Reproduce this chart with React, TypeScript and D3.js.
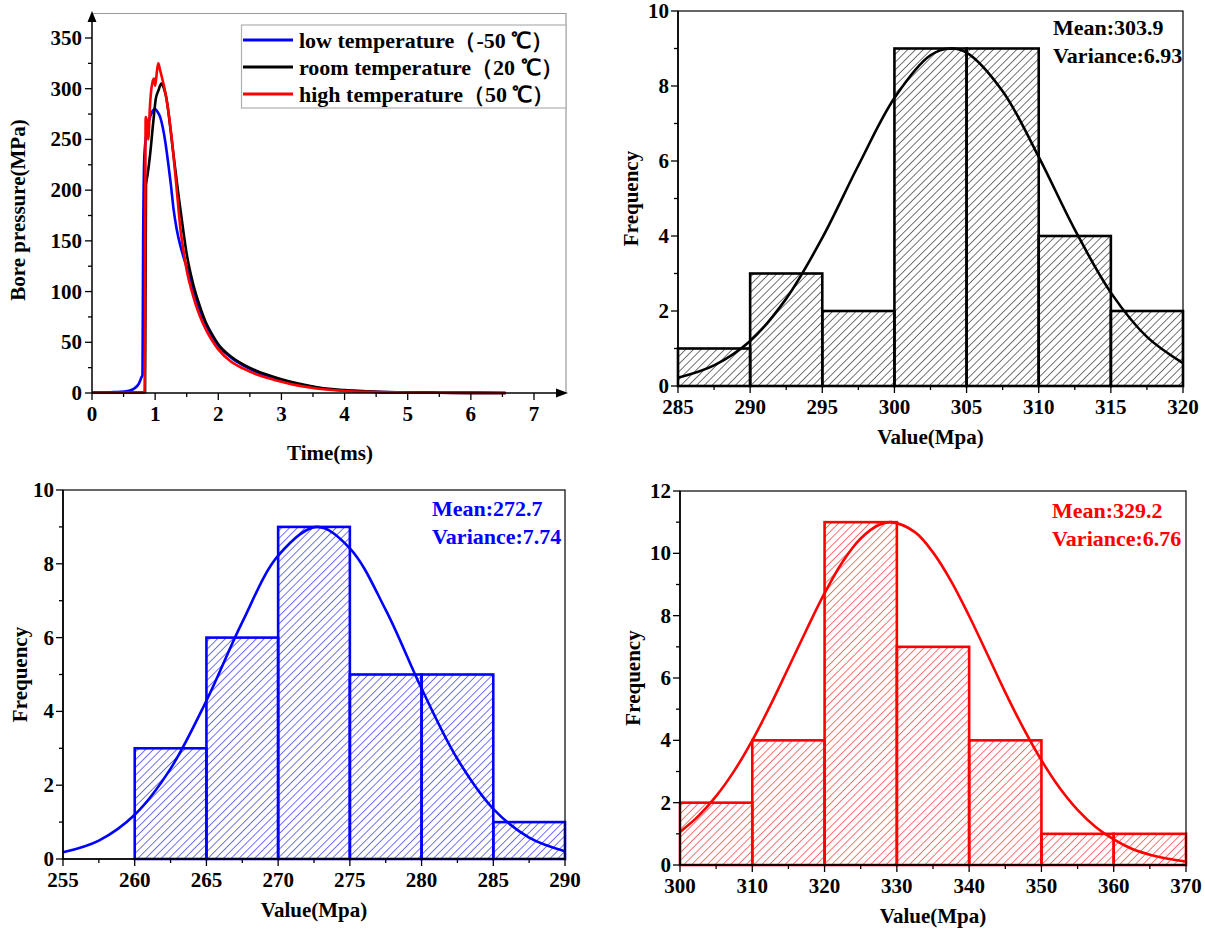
import * as d3 from "d3";

const FONT = "'Liberation Serif', 'Times New Roman', serif";

// ---- bore pressure traces: [time (ms), pressure (MPa)] ----
const lowTemp: [number, number][] = [
  [0, 0.5], [0.3, 0.8], [0.45, 1.2], [0.6, 2.5], [0.68, 5], [0.74, 9], [0.78, 15], [0.8, 18],
  [0.81, 150], [0.83, 235], [0.87, 258], [0.91, 270], [0.95, 277], [1.0, 280], [1.04, 277],
  [1.08, 272], [1.12, 262], [1.16, 248], [1.21, 225], [1.25, 205], [1.29, 182], [1.34, 162],
  [1.4, 145], [1.45, 134], [1.5, 124], [1.6, 101], [1.7, 83], [1.8, 68], [1.9, 56], [2.0, 46.5],
  [2.2, 35], [2.4, 27], [2.6, 21], [2.8, 16.5], [3.0, 12.5], [3.25, 8.8], [3.5, 6], [3.8, 3.5],
  [4.0, 2.5], [4.5, 1.1], [5.0, 0.5], [5.5, 0.25], [6.0, 0.1], [6.55, 0],
];

const roomTemp: [number, number][] = [
  [0, 0.3], [0.5, 0.4], [0.8, 0.5], [0.84, 1], [0.855, 205], [0.88, 215], [0.92, 235],
  [0.97, 267], [1.01, 290], [1.05, 298], [1.1, 305], [1.14, 300], [1.18, 290], [1.22, 272],
  [1.26, 251], [1.3, 230], [1.37, 195], [1.45, 158], [1.5, 137], [1.6, 108], [1.7, 87],
  [1.8, 70], [1.9, 58], [2.0, 48], [2.2, 36], [2.4, 28], [2.6, 22], [2.8, 17.5], [3.0, 13.5],
  [3.25, 9.5], [3.5, 6.5], [3.8, 3.8], [4.0, 2.8], [4.5, 1.3], [5.0, 0.6], [5.5, 0.3],
  [6.0, 0.15], [6.55, 0],
];

const highTemp: [number, number][] = [
  [0, 0.3], [0.5, 0.4], [0.8, 0.5], [0.835, 2], [0.85, 272], [0.87, 268], [0.89, 250],
  [0.92, 285], [0.945, 302], [0.98, 310], [1.0, 303], [1.03, 318], [1.05, 325], [1.08, 318],
  [1.1, 313], [1.15, 300], [1.2, 282], [1.25, 258], [1.3, 228], [1.35, 195], [1.4, 162],
  [1.45, 140], [1.5, 121], [1.6, 96], [1.7, 77], [1.8, 63], [1.9, 52], [2.0, 43], [2.2, 31],
  [2.4, 24], [2.6, 18.5], [2.8, 14.5], [3.0, 11], [3.25, 7.5], [3.5, 5], [3.8, 3], [4.0, 2],
  [4.5, 1], [5.0, 0.4], [5.5, 0.2], [6.0, 0.1], [6.55, 0],
];

const traceNames = ["low temperature（-50 ℃）", "room temperature（20 ℃）", "high temperature（50 ℃）"];
const traceColors = ["#0000ff", "#000000", "#ff0000"];
const timeTicks = [0, 1, 2, 3, 4, 5, 6, 7];
const pressureTicks = [0, 50, 100, 150, 200, 250, 300, 350];

// ---- histograms ----
const roomEdges = [285, 290, 295, 300, 305, 310, 315, 320];
const roomCounts = [1, 3, 2, 9, 9, 4, 2];
const roomFit: [number, number][] = [
  [285, 0.22], [287.5, 0.55], [290, 1.2], [292.5, 2.33], [295, 3.95], [297.5, 5.88], [300, 7.68],
  [302.5, 8.82], [303.9, 9], [305, 8.89], [307.5, 7.86], [310, 6.11], [312.5, 4.17], [315, 2.49],
  [317.5, 1.31], [320, 0.61],
];
const roomStats = ["Mean:303.9", "Variance:6.93"];

const lowEdges = [260, 265, 270, 275, 280, 285, 290];
const lowCounts = [3, 6, 9, 5, 5, 1];
const lowFit: [number, number][] = [
  [255, 0.18], [257.5, 0.5], [260, 1.2], [262.5, 2.45], [265, 4.29], [267.5, 6.42], [270, 8.22],
  [272.7, 9], [275, 8.42], [277.5, 6.75], [280, 4.62], [282.5, 2.71], [285, 1.36], [287.5, 0.58],
  [290, 0.21],
];
const lowStats = ["Mean:272.7", "Variance:7.74"];

const highEdges = [300, 310, 320, 330, 340, 350, 360, 370];
const highCounts = [2, 4, 11, 7, 4, 1, 1];
const highFit: [number, number][] = [
  [300, 1.06], [302.5, 1.56], [305, 2.21], [307.5, 3.02], [310, 4.0], [312.5, 5.12], [315, 6.33],
  [317.5, 7.55], [320, 8.72], [322.5, 9.73], [325, 10.48], [327.5, 10.91], [329.2, 11],
  [332.5, 10.68], [335, 10.03], [337.5, 9.11], [340, 7.99], [342.5, 6.77], [345, 5.54],
  [347.5, 4.39], [350, 3.36], [352.5, 2.48], [355, 1.77], [357.5, 1.22], [360, 0.82],
  [362.5, 0.52], [365, 0.33], [367.5, 0.2], [370, 0.11],
];
const highStats = ["Mean:329.2", "Variance:6.76"];

const txt = { fontFamily: FONT, fontWeight: 700 } as const;
const TICK_FONT = 21;

function PressureChart() {
  const x = d3.scaleLinear().domain([0, 7]).range([92, 534]);
  const y = d3.scaleLinear().domain([0, 350]).range([393, 38]);
  const line = d3
    .line<[number, number]>()
    .x((d) => x(d[0]))
    .y((d) => y(d[1]))
    .curve(d3.curveMonotoneX);
  const x0 = x(0);
  const y0 = y(0);
  const minorX = d3.range(0.5, 7.5, 1);
  const minorY = d3.range(25, 375, 50);
  const traces = [lowTemp, roomTemp, highTemp];

  return (
    <g>
      {/* grey frame */}
      <path d={`M${x0},13.5H566V${y0}`} fill="none" stroke="#9a9a9a" strokeWidth={1.2} />
      {traces.map((t, i) => (
        <path key={i} d={line(t) ?? ""} fill="none" stroke={traceColors[i]} strokeWidth={2.6} />
      ))}
      {/* axes with arrows */}
      <line x1={x0} x2={x0} y1={y0} y2={20} stroke="#000" strokeWidth={1.5} />
      <path d={`M${x0},11L${x0 - 4.5},22L${x0 + 4.5},22Z`} fill="#000" />
      <line x1={x0} x2={558} y1={y0} y2={y0} stroke="#000" strokeWidth={1.5} />
      <path d={`M568,${y0}L556,${y0 - 4.5}L556,${y0 + 4.5}Z`} fill="#000" />
      {timeTicks.map((t) => (
        <g key={t}>
          <line x1={x(t)} x2={x(t)} y1={y0} y2={y0 + 7} stroke="#000" strokeWidth={1.3} />
          <text x={x(t)} y={y0 + 28} textAnchor="middle" fontSize={TICK_FONT} {...txt}>
            {t}
          </text>
        </g>
      ))}
      {minorX.map((t) => (
        <line key={t} x1={x(t)} x2={x(t)} y1={y0} y2={y0 + 4} stroke="#000" strokeWidth={1.3} />
      ))}
      {pressureTicks.map((p) => (
        <g key={p}>
          <line x1={x0 - 7} x2={x0} y1={y(p)} y2={y(p)} stroke="#000" strokeWidth={1.3} />
          <text x={x0 - 10} y={y(p)} dy="0.33em" textAnchor="end" fontSize={TICK_FONT} {...txt}>
            {p}
          </text>
        </g>
      ))}
      {minorY.map((p) => (
        <line key={p} x1={x0 - 4} x2={x0} y1={y(p)} y2={y(p)} stroke="#000" strokeWidth={1.3} />
      ))}
      <text x={330} y={460} textAnchor="middle" fontSize={21} {...txt}>
        Time(ms)
      </text>
      <text transform="translate(25,210) rotate(-90)" textAnchor="middle" fontSize={21} {...txt}>
        Bore pressure(MPa)
      </text>
      {/* legend */}
      <rect x={241.5} y={25} width={324.5} height={83} fill="#fff" stroke="#b0b0b0" strokeWidth={1.2} />
      {traceNames.map((n, i) => (
        <g key={n}>
          <line x1={243} x2={293} y1={40 + i * 27} y2={40 + i * 27} stroke={traceColors[i]} strokeWidth={3} />
          <text x={299} y={40 + i * 27} dy="0.35em" fontSize={22} {...txt}>
            {n}
          </text>
        </g>
      ))}
    </g>
  );
}

type HistProps = {
  id: string;
  edges: number[];
  counts: number[];
  fit: [number, number][];
  stats: string[];
  color: string;
  lo: number;
  left: number;
  right: number;
  top: number;
  bottom: number;
  yMax: number;
  xStep: number;
  statsX: number;
  statsY: number;
  yTitleX: number;
};

function Histogram(p: HistProps) {
  const lo = p.lo;
  const hi = p.edges[p.edges.length - 1];
  const x = d3.scaleLinear().domain([lo, hi]).range([p.left, p.right]);
  const y = d3.scaleLinear().domain([0, p.yMax]).range([p.bottom, p.top]);
  const line = d3
    .line<[number, number]>()
    .x((d) => x(d[0]))
    .y((d) => y(d[1]))
    .curve(d3.curveCatmullRom);
  const xTicks = d3.range(lo, hi + 0.01, p.xStep);
  const xMinor = d3.range(lo + p.xStep / 2, hi, p.xStep);
  const yTicks = d3.range(0, p.yMax + 0.01, 2);
  const yMinor = d3.range(1, p.yMax, 2);
  const cx = (p.left + p.right) / 2;
  const cy = (p.top + p.bottom) / 2;

  return (
    <g>
      <defs>
        <pattern id={`hatch-${p.id}`} width={5.5} height={5.5} patternUnits="userSpaceOnUse" patternTransform="rotate(45)">
          <line x1={0} y1={0} x2={0} y2={5.5} stroke={p.color} strokeWidth={1.1} />
        </pattern>
      </defs>
      {p.counts.map((c, i) => (
        <rect
          key={i}
          x={x(p.edges[i])}
          y={y(c)}
          width={x(p.edges[i + 1]) - x(p.edges[i])}
          height={y(0) - y(c)}
          fill={`url(#hatch-${p.id})`}
          stroke={p.color}
          strokeWidth={2.6}
        />
      ))}
      <path d={line(p.fit) ?? ""} fill="none" stroke={p.color} strokeWidth={2.6} />
      <rect x={p.left} y={p.top} width={p.right - p.left} height={p.bottom - p.top} fill="none" stroke="#000" strokeWidth={1.2} />
      <line x1={p.left} x2={p.left} y1={p.top} y2={p.bottom} stroke="#000" strokeWidth={1.6} />
      <line x1={p.left} x2={p.right} y1={p.bottom} y2={p.bottom} stroke="#000" strokeWidth={1.6} />
      {xTicks.map((t) => (
        <g key={t}>
          <line x1={x(t)} x2={x(t)} y1={p.bottom} y2={p.bottom + 7} stroke="#000" strokeWidth={1.3} />
          <text x={x(t)} y={p.bottom + 28} textAnchor="middle" fontSize={TICK_FONT} {...txt}>
            {t}
          </text>
        </g>
      ))}
      {xMinor.map((t) => (
        <line key={t} x1={x(t)} x2={x(t)} y1={p.bottom} y2={p.bottom + 4} stroke="#000" strokeWidth={1.3} />
      ))}
      {yTicks.map((t) => (
        <g key={t}>
          <line x1={p.left - 7} x2={p.left} y1={y(t)} y2={y(t)} stroke="#000" strokeWidth={1.3} />
          <text x={p.left - 9} y={y(t)} dy="0.33em" textAnchor="end" fontSize={TICK_FONT} {...txt}>
            {t}
          </text>
        </g>
      ))}
      {yMinor.map((t) => (
        <line key={t} x1={p.left - 4} x2={p.left} y1={y(t)} y2={y(t)} stroke="#000" strokeWidth={1.3} />
      ))}
      <text x={cx} y={p.bottom + 58} textAnchor="middle" fontSize={21} {...txt}>
        Value(Mpa)
      </text>
      <text transform={`translate(${p.yTitleX},${cy}) rotate(-90)`} textAnchor="middle" fontSize={21} {...txt}>
        Frequency
      </text>
      {p.stats.map((s, i) => (
        <text key={s} x={p.statsX} y={p.statsY + i * 28} fontSize={22} fill={p.color} {...txt}>
          {s}
        </text>
      ))}
    </g>
  );
}

export default function App() {
  return (
    <svg
      width={1205}
      height={929}
      style={{ position: "absolute", left: 0, top: 0, background: "#fff" }}
    >
      <rect width={1205} height={929} fill="#fff" />
      <PressureChart />
      <Histogram
        id="room" edges={roomEdges} counts={roomCounts} fit={roomFit} stats={roomStats} color="#000000"
        lo={285} left={678} right={1183} top={11} bottom={386} yMax={10} xStep={5}
        statsX={1053} statsY={35} yTitleX={638}
      />
      <Histogram
        id="low" edges={lowEdges} counts={lowCounts} fit={lowFit} stats={lowStats} color="#0000ff"
        lo={255} left={63} right={565} top={490} bottom={859} yMax={10} xStep={5}
        statsX={432} statsY={516} yTitleX={27}
      />
      <Histogram
        id="high" edges={highEdges} counts={highCounts} fit={highFit} stats={highStats} color="#ff0000"
        lo={300} left={680} right={1186} top={491} bottom={865} yMax={12} xStep={10}
        statsX={1052} statsY={518} yTitleX={640}
      />
    </svg>
  );
}
